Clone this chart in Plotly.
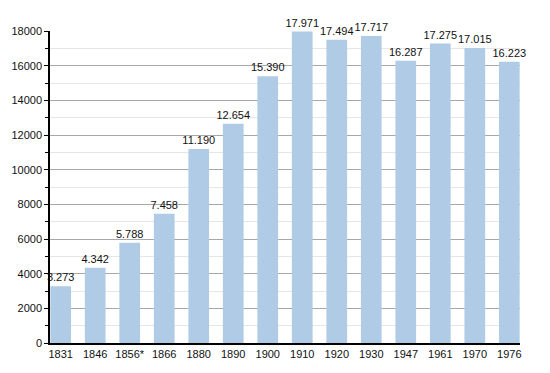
import plotly.graph_objects as go

years = ["1831", "1846", "1856*", "1866", "1880", "1890", "1900", "1910", "1920", "1930", "1947", "1961", "1970", "1976"]
population = [3273, 4342, 5788, 7458, 11190, 12654, 15390, 17971, 17494, 17717, 16287, 17275, 17015, 16223]
labels = ["3.273", "4.342", "5.788", "7.458", "11.190", "12.654", "15.390", "17.971", "17.494", "17.717", "16.287", "17.275", "17.015", "16.223"]

fig = go.Figure()
fig.add_trace(go.Bar(
    x=list(range(len(years))), y=population,
    marker=dict(color="#b0cbe5", line=dict(width=0)),
    width=0.6,
    text=labels, textposition="outside", cliponaxis=False,
    constraintext="none",
    textfont=dict(family="Liberation Sans, Arial, sans-serif", size=11, color="#111"),
))
# page body has an 8px margin; shrink the figure so the plot area lands where the reference has it
fig.update_layout(
    width=542, height=365,
    margin=dict(l=42, r=30, t=23, b=30, autoexpand=False),
    paper_bgcolor="white", plot_bgcolor="white",
    showlegend=False,
    font=dict(family="Liberation Sans, Arial, sans-serif", size=11, color="#111"),
)
fig.update_xaxes(
    tickmode="array", tickvals=list(range(len(years))), ticktext=years,
    range=[-0.31, 13.31], showgrid=False, showline=True, linecolor="black", linewidth=1.5,
    ticks="", tickfont=dict(size=11), ticklabelstandoff=0,
)
fig.update_yaxes(
    range=[0, 18000], dtick=2000, tick0=0, tickformat="d",
    showgrid=True, gridcolor="#a8a8a8", gridwidth=1,
    showline=True, linecolor="black", linewidth=1.5,
    ticks="outside", ticklen=4, tickcolor="black", tickwidth=1,
    zeroline=False,
    minor=dict(dtick=1000, showgrid=True, gridcolor="#e6e6e6", ticks="outside", ticklen=3, tickcolor="black"),
    tickfont=dict(size=11),
)
fig.write_html("out.html")
